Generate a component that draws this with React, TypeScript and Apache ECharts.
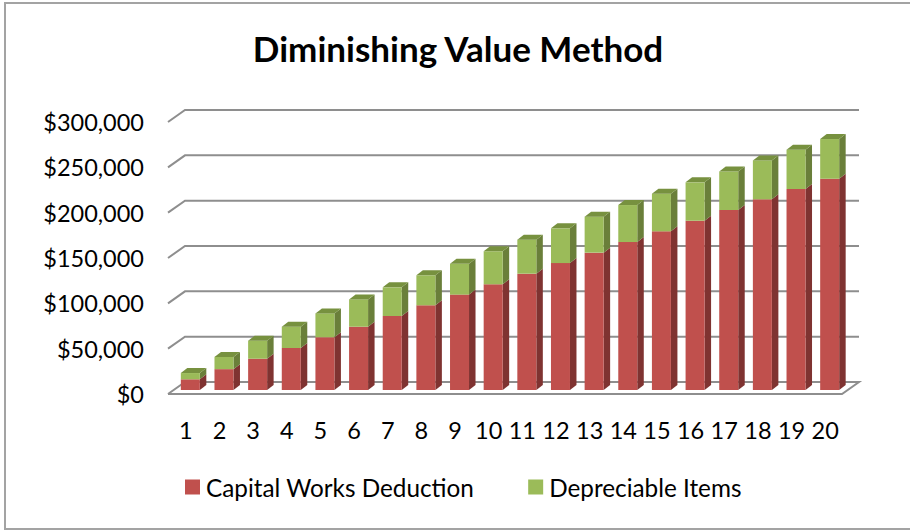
import React, { useEffect, useRef } from "react";
import * as echarts from "echarts";

const years = ["1","2","3","4","5","6","7","8","9","10","11","12","13","14","15","16","17","18","19","20"];
const capitalWorks = [11800,23000,34500,46300,58200,69800,81600,93400,105200,116600,128300,140000,151500,163200,175000,186700,198500,210300,221700,233000];
const depreciable = [6900,13500,19900,23500,26300,30100,31600,33100,34000,36400,37500,38300,39700,40800,41500,42300,42500,42900,43300,43800];
const yTicks = [0,50000,100000,150000,200000,250000,300000];

const FONT = "Lato";
const money = (v: number) => "$" + v.toLocaleString("en-US");

const FLOOR_DX = 17, FLOOR_DY = -12;
const BAR_DX = 4.5, BAR_DY = -4, DEPTH_DX = 6.5, DEPTH_DY = -5;
const BAR_W = 19;

function barRenderer(front: string, side: string, top: string | null) {
  return (params: any, api: any) => {
    const idx = api.value(0);
    const [cx, y0raw] = api.coord([idx, api.value(1)]);
    const [, y1raw] = api.coord([idx, api.value(2)]);
    const x0 = cx + BAR_DX - BAR_W / 2;
    const x1 = x0 + BAR_W;
    const yb = y0raw + BAR_DY;
    const yt = y1raw + BAR_DY;
    const children: any[] = [
      { type: "polygon", shape: { points: [[x1, yb], [x1 + DEPTH_DX, yb + DEPTH_DY], [x1 + DEPTH_DX, yt + DEPTH_DY], [x1, yt]] }, style: { fill: side } },
      { type: "rect", shape: { x: x0, y: yt, width: BAR_W, height: yb - yt }, style: { fill: front } },
    ];
    if (top) {
      children.push({ type: "polygon", shape: { points: [[x0, yt], [x0 + DEPTH_DX, yt + DEPTH_DY], [x1 + DEPTH_DX, yt + DEPTH_DY], [x1, yt]] }, style: { fill: top } });
    }
    return { type: "group", children };
  };
}

function gridRenderer(params: any, api: any) {
  const tick = api.value(0);
  const [, y] = api.coord([0, tick]);
  const sys = params.coordSys;
  const left = sys.x - 1;
  const right = sys.x + sys.width;
  const style = { stroke: "#8e8e8e", lineWidth: 2, fill: "none" };
  const pts = tick === 0
    ? [[left, y], [left + FLOOR_DX, y + FLOOR_DY], [right + FLOOR_DX, y + FLOOR_DY], [right, y], [left, y]]
    : [[left, y], [left + FLOOR_DX, y + FLOOR_DY], [right + FLOOR_DX, y + FLOOR_DY]];
  return { type: "polyline", shape: { points: pts }, style };
}

export default function App() {
  const ref = useRef<HTMLDivElement>(null);
  useEffect(() => {
    const chart = echarts.init(ref.current!, undefined, { renderer: "svg" });
    chart.setOption({
      animation: false,
      backgroundColor: "#ffffff",
      title: {
        text: "Diminishing Value Method",
        left: 453,
        top: 25,
        textAlign: "center",
        textStyle: { fontFamily: FONT, fontSize: 35, fontWeight: "bold", color: "#000000" },
      },
      graphic: [
        { type: "rect", silent: true, shape: { x: 5, y: 3, width: 1000, height: 526 }, style: { fill: "none", stroke: "#a3a3a3", lineWidth: 2 } },
      ],
      legend: {
        left: 185,
        top: 475,
        padding: 0,
        icon: "rect",
        itemWidth: 15,
        itemHeight: 15,
        itemGap: 54,
        data: ["Capital Works Deduction", "Depreciable Items"],
        textStyle: { fontFamily: FONT, fontSize: 24.3, color: "#000000", padding: [0, 0, 0, 1] },
      },
      grid: { left: 169, top: 122, width: 673, height: 272 },
      xAxis: {
        type: "category",
        data: years,
        axisLine: { show: false },
        axisTick: { show: false },
        axisLabel: { interval: 0, margin: 24, fontFamily: FONT, fontSize: 23.5, color: "#000000" },
      },
      yAxis: {
        type: "value",
        min: 0,
        max: 300000,
        interval: 50000,
        splitLine: { show: false },
        axisLine: { show: false },
        axisTick: { show: false },
        axisLabel: { margin: 25, padding: [6, 0, 0, 0], formatter: money, fontFamily: FONT, fontSize: 23.5, color: "#000000" },
      },
      series: [
        {
          type: "custom",
          name: "grid",
          renderItem: gridRenderer,
          data: yTicks.map((t) => [t]),
          encode: { y: 0 },
          silent: true,
          z: 1,
        },
        {
          type: "custom",
          name: "Capital Works Deduction",
          renderItem: barRenderer("#C0504D", "#7F3331", null),
          itemStyle: { color: "#C0504D" },
          data: capitalWorks.map((v, i) => [i, 0, v]),
          encode: { x: 0, y: 2 },
          z: 2,
        },
        {
          type: "custom",
          name: "Depreciable Items",
          renderItem: barRenderer("#9BBB59", "#6A7F3A", "#77913F"),
          itemStyle: { color: "#9BBB59" },
          data: depreciable.map((v, i) => [i, capitalWorks[i], capitalWorks[i] + v]),
          encode: { x: 0, y: 2 },
          z: 3,
        },
      ],
    });
    return () => chart.dispose();
  }, []);
  return <div ref={ref} style={{ position: "absolute", left: 0, top: 0, width: 910, height: 530 }} />;
}
